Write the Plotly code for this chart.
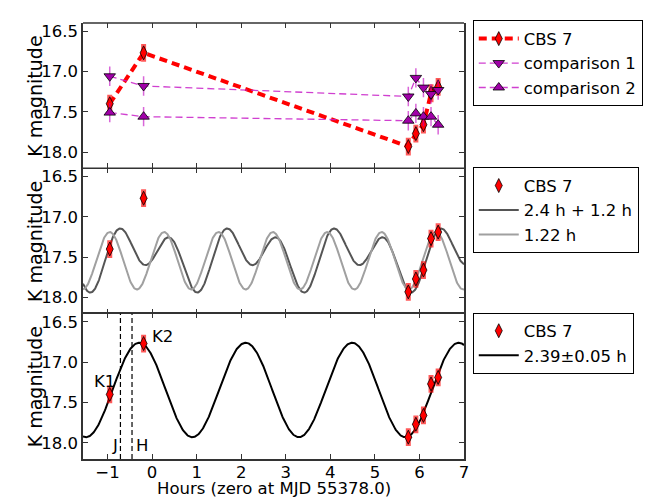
import numpy as np
import plotly.graph_objects as go
from plotly.subplots import make_subplots

# observation times (hours from MJD 55378.0) and K magnitudes
hours = [-0.95, -0.19, 5.75, 5.92, 6.09, 6.26, 6.42]
cbs7_mag = [17.40, 16.77, 17.93, 17.77, 17.66, 17.27, 17.19]
cbs7_err = [0.11, 0.11, 0.11, 0.11, 0.11, 0.11, 0.11]
comp1_mag = [17.06, 17.18, 17.31, 17.08, 17.20, 17.28, 17.23]
comp2_mag = [17.51, 17.56, 17.61, 17.52, 17.56, 17.56, 17.66]
comp_err = [0.12, 0.12, 0.12, 0.12, 0.12, 0.12, 0.12]

# model parameters
two_period = dict(p=2.4, t0=-0.77, c=17.49, b=0.2775, a=0.179, alpha=np.radians(72))
one_period = dict(p=1.22, t0=-0.95, c=17.545, amp=0.355)
best_fit = dict(p=2.39, t0=-0.29, c=17.345, amp=0.585)

band_lines = {"J": -0.71, "H": -0.45}
x_range = [-1.55, 7]
y_range = [18.2, 16.4]
y_ticks = [16.5, 17.0, 17.5, 18.0]

t = np.linspace(x_range[0], x_range[1], 800)
th = 2 * np.pi * (t - two_period["t0"]) / two_period["p"]
m_two = (two_period["c"] - two_period["b"] * np.cos(2 * th)
         - two_period["a"] * np.cos(th - two_period["alpha"]))
m_one = one_period["c"] - one_period["amp"] * np.cos(2 * np.pi * (t - one_period["t0"]) / one_period["p"])
m_fit = best_fit["c"] - best_fit["amp"] * np.cos(2 * np.pi * (t - best_fit["t0"]) / best_fit["p"])

FONT = "DejaVu Sans"
SPINE = "#333333"
red_err = dict(type="data", array=cbs7_err, color="rgba(255,0,0,0.65)", thickness=5, width=0)
mag_err = dict(type="data", array=comp_err, color="rgba(191,0,191,0.6)", thickness=1.5, width=0)
diamond = dict(symbol="diamond-tall", size=10, color="red", line=dict(color="black", width=0.8))

fig = make_subplots(rows=3, cols=1, shared_xaxes=True, vertical_spacing=0)

# top panel: raw light curves
fig.add_trace(go.Scatter(x=hours, y=cbs7_mag, error_y=red_err, mode="lines+markers", name="CBS 7",
                         line=dict(color="red", width=4, dash="8px,5px"), marker=diamond,
                         legend="legend"), row=1, col=1)
fig.add_trace(go.Scatter(x=hours, y=comp1_mag, error_y=mag_err, mode="lines+markers", name="comparison 1",
                         line=dict(color="rgba(200,30,200,0.85)", width=1.3, dash="7px,4px"),
                         marker=dict(symbol="triangle-down", size=10, color="#a000a8",
                                     line=dict(color="black", width=0.8)),
                         legend="legend"), row=1, col=1)
fig.add_trace(go.Scatter(x=hours, y=comp2_mag, error_y=mag_err, mode="lines+markers", name="comparison 2",
                         line=dict(color="rgba(200,30,200,0.85)", width=1.3, dash="7px,4px"),
                         marker=dict(symbol="triangle-up", size=10, color="#a000a8",
                                     line=dict(color="black", width=0.8)),
                         legend="legend"), row=1, col=1)

# middle panel: candidate periods
fig.add_trace(go.Scatter(x=t, y=m_two, mode="lines", name="2.4 h + 1.2 h",
                         line=dict(color="#555555", width=2), legend="legend2"), row=2, col=1)
fig.add_trace(go.Scatter(x=t, y=m_one, mode="lines", name="1.22 h",
                         line=dict(color="#a0a0a0", width=2), legend="legend2"), row=2, col=1)
fig.add_trace(go.Scatter(x=hours, y=cbs7_mag, error_y=red_err, mode="markers", name="CBS 7",
                         marker=diamond, legend="legend2", legendrank=1), row=2, col=1)

# bottom panel: best fit
fig.add_trace(go.Scatter(x=t, y=m_fit, mode="lines", name="2.39\u00b10.05 h",
                         line=dict(color="black", width=2), legend="legend3"), row=3, col=1)
fig.add_trace(go.Scatter(x=hours, y=cbs7_mag, error_y=red_err, mode="markers", name="CBS 7",
                         marker=diamond, legend="legend3", legendrank=1), row=3, col=1)

for name, x in band_lines.items():
    fig.add_vline(x=x, line=dict(color="black", width=1.2, dash="5px,3px"), row=3, col=1)

for txt, x, y in [("K1", -1.06, 17.24), ("K2", 0.24, 16.68), ("J", -0.83, 18.03), ("H", -0.23, 18.03)]:
    fig.add_annotation(x=x, y=y, xref="x3", yref="y3", text=txt, showarrow=False,
                       font=dict(family=FONT, size=16.5, color="black"))

# axis titles placed by hand
for yc in [5 / 6, 1 / 2, 1 / 6]:
    fig.add_annotation(x=-0.126, y=yc, xref="paper", yref="paper", text="K magnitude",
                       textangle=-90, showarrow=False, xanchor="center", yanchor="middle",
                       font=dict(family=FONT, size=19, color="black"))
fig.add_annotation(x=0.5, y=-0.068, xref="paper", yref="paper", text="Hours (zero at MJD 55378.0)",
                   showarrow=False, xanchor="center", yanchor="middle",
                   font=dict(family=FONT, size=16.5, color="black"))

# top border and the border between the upper two panels
for yb in [1.0, 2 / 3]:
    fig.add_shape(type="line", xref="paper", yref="paper", x0=0, x1=1, y0=yb, y1=yb,
                  line=dict(color=SPINE, width=1.5))

axis_style = dict(showline=True, linecolor=SPINE, linewidth=1.5, mirror="ticks",
                  ticks="inside", ticklen=5, tickcolor=SPINE, showgrid=False, zeroline=False)
fig.update_xaxes(range=x_range, dtick=1, **axis_style)
fig.update_xaxes(showline=False, row=1, col=1)
fig.update_xaxes(showline=False, row=2, col=1)
fig.update_xaxes(ticklabelstandoff=-3, row=3, col=1)
fig.update_yaxes(range=y_range, tickvals=y_ticks, tickformat=".1f", **axis_style)
fig.update_layout(yaxis=dict(domain=[2 / 3, 1]), yaxis2=dict(domain=[1 / 3, 2 / 3]),
                  yaxis3=dict(domain=[0, 1 / 3]))

legend_style = dict(x=1.023, xanchor="left", yanchor="top", bordercolor="black", borderwidth=1,
                    bgcolor="white", font=dict(family=FONT, size=16.5, color="black"),
                    tracegroupgap=0, traceorder="normal", itemwidth=40)
# the page body adds an 8px offset, so margins are shifted up/left by 8px
fig.update_layout(
    width=664, height=498,
    margin=dict(l=75, r=208, t=12, b=47),
    plot_bgcolor="white", paper_bgcolor="white",
    font=dict(family=FONT, size=16.5, color="black"),
    legend=dict(y=1.006, **legend_style),
    legend2=dict(y=0.669, **legend_style),
    legend3=dict(y=0.336, **legend_style),
)

fig.write_html("out.html")
